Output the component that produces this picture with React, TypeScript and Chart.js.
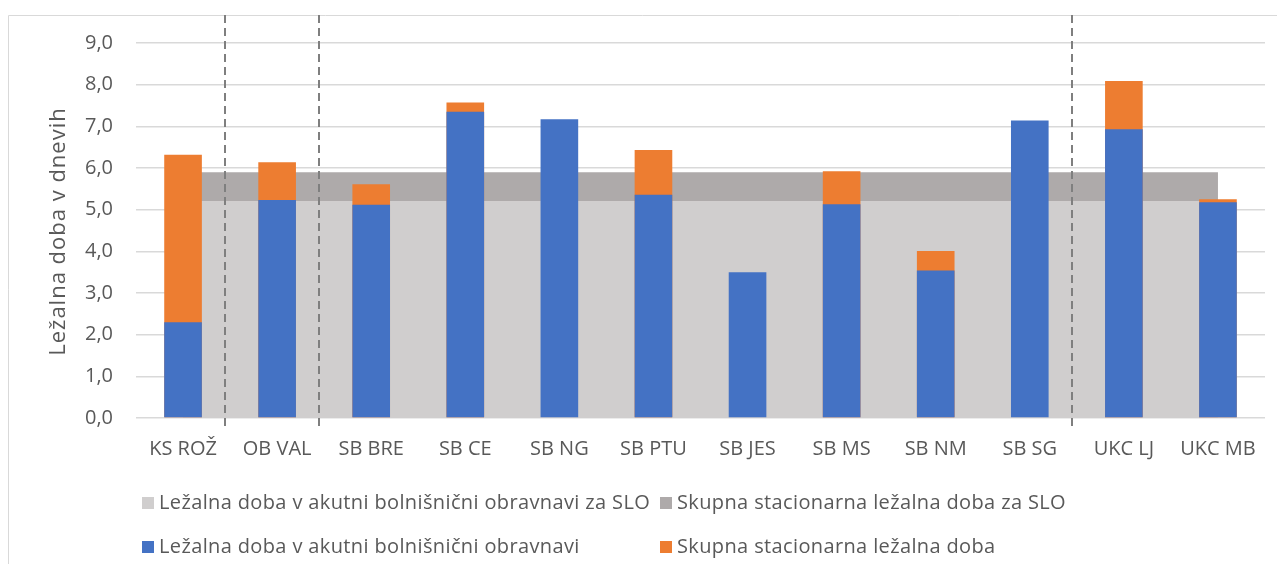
import React, { useEffect, useRef } from 'react';
import { Chart, registerables } from 'chart.js';

Chart.register(...registerables);

const categories = ['KS ROŽ', 'OB VAL', 'SB BRE', 'SB CE', 'SB NG', 'SB PTU', 'SB JES', 'SB MS', 'SB NM', 'SB SG', 'UKC LJ', 'UKC MB'];
const acuteStay = [2.30, 5.23, 5.12, 7.35, 7.17, 5.36, 3.50, 5.13, 3.54, 7.14, 6.93, 5.18];
const totalStay = [6.32, 6.14, 5.61, 7.57, 7.17, 6.43, 3.50, 5.92, 4.01, 7.14, 8.09, 5.25];
const sloAcuteStay = [5.2, 5.2, 5.2, 5.2, 5.2, 5.2, 5.2, 5.2, 5.2, 5.2, 5.2, 5.2];
const sloTotalStay = [5.9, 5.9, 5.9, 5.9, 5.9, 5.9, 5.9, 5.9, 5.9, 5.9, 5.9, 5.9];
const yTickLabels = ['0,0', '1,0', '2,0', '3,0', '4,0', '5,0', '6,0', '7,0', '8,0', '9,0'];
const seriesLabels = [
  'Ležalna doba v akutni bolnišnični obravnavi za SLO',
  'Skupna stacionarna ležalna doba za SLO',
  'Ležalna doba v akutni bolnišnični obravnavi',
  'Skupna stacionarna ležalna doba',
];
const yTitle = 'Ležalna doba v dnevih';
const dividerAfter = [0, 1, 9];

const COLORS = ['#d0cece', '#aeaaaa', '#4472c4', '#ed7d31'];
const FONT = "'Open Sans', sans-serif";
const TEXT = '#595959';

const decorPlugin = {
  id: 'decor',
  beforeDraw(chart: any) {
    const { ctx, width, height } = chart;
    ctx.save();
    ctx.strokeStyle = '#d9d9d9';
    ctx.lineWidth = 1;
    ctx.beginPath();
    ctx.moveTo(0.5, height);
    ctx.lineTo(0.5, 7.5);
    ctx.lineTo(width, 7.5);
    ctx.stroke();
    ctx.restore();
  },
  afterDatasetsDraw(chart: any) {
    const { ctx, chartArea } = chart;
    const x = chart.scales.x;
    ctx.save();
    ctx.strokeStyle = '#7f7f7f';
    ctx.lineWidth = 2;
    ctx.setLineDash([8, 5]);
    for (const i of dividerAfter) {
      const a = x.getPixelForValue(i);
      const b = x.getPixelForValue(i + 1);
      const px = Math.round(a + (b - a) * 0.45);
      ctx.beginPath();
      ctx.moveTo(px, 7);
      ctx.lineTo(px, chartArea.bottom + 10);
      ctx.stroke();
    }
    ctx.restore();
  },
  afterDraw(chart: any) {
    const { ctx, chartArea } = chart;
    // y-axis title
    ctx.save();
    ctx.font = `22px ${FONT}`;
    (ctx as any).letterSpacing = '1px';
    ctx.fillStyle = TEXT;
    ctx.textAlign = 'center';
    ctx.textBaseline = 'middle';
    ctx.translate(51, (chartArea.top + chartArea.bottom) / 2 + 1);
    ctx.rotate(-Math.PI / 2);
    ctx.fillText(yTitle, 0, 0);
    ctx.restore();

    // legend
    const cols = [134, 652];
    const rows = [495, 539];
    ctx.save();
    ctx.font = `20px ${FONT}`;
    (ctx as any).letterSpacing = '0.37px';
    ctx.textBaseline = 'middle';
    ctx.textAlign = 'left';
    seriesLabels.forEach((label, i) => {
      const cx = cols[i % 2];
      const cy = rows[Math.floor(i / 2)];
      ctx.fillStyle = COLORS[i];
      ctx.fillRect(cx, cy - 6, 12, 12);
      ctx.fillStyle = TEXT;
      ctx.fillText(label, cx + 17, cy);
    });
    ctx.restore();
  },
};

export default function App() {
  const ref = useRef<HTMLCanvasElement>(null);
  useEffect(() => {
    if (!ref.current) return;
    const chart = new Chart(ref.current, {
      type: 'bar',
      data: {
        labels: categories,
        datasets: [
          {
            type: 'bar',
            label: seriesLabels[2],
            data: acuteStay,
            backgroundColor: COLORS[2],
            grouped: false,
            barPercentage: 0.4,
            categoryPercentage: 1,
            order: 0,
          },
          {
            type: 'bar',
            label: seriesLabels[3],
            data: totalStay,
            backgroundColor: (c: any) =>
              totalStay[c.dataIndex] > acuteStay[c.dataIndex] ? COLORS[3] : 'rgba(0,0,0,0)',
            grouped: false,
            barPercentage: 0.4,
            categoryPercentage: 1,
            order: 1,
          },
          {
            type: 'line',
            label: seriesLabels[1],
            data: sloTotalStay,
            backgroundColor: COLORS[1],
            borderWidth: 0,
            pointRadius: 0,
            fill: '+1',
            order: 5,
          },
          {
            type: 'line',
            label: seriesLabels[0],
            data: sloAcuteStay,
            backgroundColor: COLORS[0],
            borderWidth: 0,
            pointRadius: 0,
            fill: 'origin',
            order: 6,
          },
        ] as any,
      },
      options: {
        responsive: false,
        animation: false,
        devicePixelRatio: 1,
        layout: { padding: { top: 35, right: 12, bottom: 84, left: 0 } },
        plugins: {
          legend: { display: false },
          tooltip: { enabled: false },
        },
        scales: {
          x: {
            grid: { display: false, drawTicks: false },
            border: { display: false },
            ticks: { color: TEXT, font: { family: FONT, size: 20 }, padding: 19, maxRotation: 0 },
          },
          y: {
            min: 0,
            max: 9,
            grid: { color: '#d9d9d9', lineWidth: 1.5, drawTicks: false },
            border: { display: false },
            ticks: {
              stepSize: 1,
              color: TEXT,
              font: { family: FONT, size: 20 },
              padding: 23,
              callback: (_v: any, i: number) => yTickLabels[i],
            },
            afterFit: (scale: any) => {
              scale.width = 128;
            },
          },
        },
      },
      plugins: [decorPlugin],
    });
    return () => chart.destroy();
  }, []);
  return <canvas ref={ref} width={1269} height={556} style={{ display: 'block' }} />;
}
